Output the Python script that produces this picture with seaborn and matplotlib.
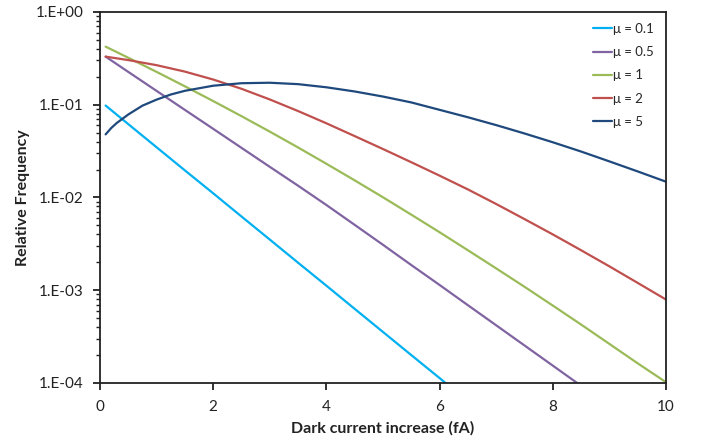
import numpy as np
import pandas as pd
import matplotlib
matplotlib.use("Agg")
import matplotlib.pyplot as plt
import matplotlib.ticker as mticker
import seaborn as sns

# ---- data ----
x_grid = [0.1, 0.5, 1.0, 1.5, 2.0, 2.5, 3.0, 3.5, 4.0, 4.5, 5.0,
          5.5, 6.0, 6.5, 7.0, 7.5, 8.0, 8.5, 9.0, 9.5, 10.0]
x_mu5 = [0.1, 0.2, 0.3, 0.5, 0.75, 1.0, 1.25, 1.5, 2.0, 2.5, 3.0, 3.5, 4.0,
         4.5, 5.0, 5.5, 6.0, 6.5, 7.0, 7.5, 8.0, 8.5, 9.0, 9.5, 10.0]

mu_labels = ["μ = 0.1", "μ = 0.5", "μ = 1", "μ = 2", "μ = 5"]

freq_mu01 = [0.098, 0.0618, 0.0348, 0.0196, 0.0111, 0.00624, 0.00352, 0.00198,
             0.00112, 0.00063, 0.000355, 0.0002, 0.000113, 0.0000635]
freq_mu05 = [0.33, 0.226, 0.141, 0.088, 0.055, 0.0343, 0.0214, 0.0134, 0.0083,
             0.00507, 0.00309, 0.00187, 0.00114, 0.00069, 0.000419, 0.000254,
             0.000154, 0.0000933]
freq_mu1 = [0.423, 0.321, 0.226, 0.158, 0.1096, 0.0753, 0.0513, 0.0346, 0.0231,
            0.0153, 0.01005, 0.00653, 0.00422, 0.0027, 0.00172, 0.00109,
            0.000684, 0.000427, 0.000264, 0.000163, 0.000102]
freq_mu2 = [0.33, 0.303, 0.267, 0.2275, 0.187, 0.1486, 0.114, 0.0855, 0.0631,
            0.0459, 0.0333, 0.024, 0.0172, 0.01222, 0.00851, 0.00585, 0.004,
            0.0027, 0.00181, 0.0012, 0.000794]
freq_mu5 = [0.0479, 0.0562, 0.0638, 0.0785, 0.0977, 0.1135, 0.1288, 0.1413,
            0.1603, 0.1706, 0.1726, 0.1667, 0.1542, 0.139, 0.1225, 0.1059,
            0.0881, 0.0733, 0.0603, 0.049, 0.0394, 0.0313, 0.0245, 0.0191, 0.0148]

x_tick_values = [0, 2, 4, 6, 8, 10]
x_tick_labels = ["0", "2", "4", "6", "8", "10"]
y_tick_values = [1e-4, 1e-3, 1e-2, 1e-1, 1]
y_tick_labels = ["1.E-04", "1.E-03", "1.E-02", "1.E-01", "1.E+00"]

series_x = [x_grid, x_grid, x_grid, x_grid, x_mu5]
series_y = [freq_mu01, freq_mu05, freq_mu1, freq_mu2, freq_mu5]
colors = ["#00B0F0", "#8064A2", "#9BBB59", "#C0504D", "#1F497D"]

rows = []
for lab, xs, vals in zip(mu_labels, series_x, series_y):
    for xv, yv in zip(xs, vals):
        rows.append({"x": xv, "y": yv, "mu": lab})
df = pd.DataFrame(rows)

# ---- plot ----
sns.set_style("ticks")
plt.rcParams["font.family"] = ["Lato", "DejaVu Sans"]

fig = plt.figure(figsize=(7.06, 4.42), dpi=100)
ax = fig.add_axes([0.1416, 0.1335, 0.9433 - 0.1416, 0.9729 - 0.1335])

sns.lineplot(data=df, x="x", y="y", hue="mu", hue_order=mu_labels,
             palette=colors, linewidth=1.6, ax=ax, legend=False, sort=True)

ax.set_yscale("log")
ax.set_xlim(0, 10)
ax.set_ylim(1e-4, 1)
ax.set_xticks(x_tick_values)
ax.set_xticklabels(x_tick_labels)
ax.set_yticks(y_tick_values)
ax.set_yticklabels(y_tick_labels)
ax.yaxis.set_minor_locator(mticker.LogLocator(base=10, subs=np.arange(2, 10), numticks=20))
ax.yaxis.set_minor_formatter(mticker.NullFormatter())
ax.xaxis.set_minor_locator(mticker.NullLocator())

for spn in ax.spines.values():
    spn.set_visible(True)
    spn.set_color("#222222")
    spn.set_linewidth(1.3)

ax.tick_params(axis="x", which="major", bottom=True, top=False, direction="out",
               length=5, width=1.3, color="#222222", labelcolor="#222222",
               labelsize=11, pad=7)
ax.tick_params(axis="y", which="major", left=True, right=False, direction="out",
               length=5, width=1.3, color="#222222", labelcolor="#222222",
               labelsize=11, pad=7)
ax.tick_params(axis="y", which="minor", left=True, right=False, direction="out",
               length=3, width=1.0, color="#222222")

ax.set_xlabel("Dark current increase (fA)", fontsize=11.5, fontweight="bold",
              color="#222222", labelpad=5)
ax.set_ylabel("Relative Frequency", fontsize=11.5, fontweight="bold",
              color="#222222", labelpad=4)

handles = [plt.Line2D([], [], color=c, lw=1.6) for c in colors]
leg = ax.legend(handles, mu_labels, loc="upper right", frameon=False,
                fontsize=9.5, handlelength=1.4, handletextpad=0.1,
                labelspacing=0.85, bbox_to_anchor=(0.995, 0.995),
                borderaxespad=0.3)

fig.savefig("out.png", dpi=100)
